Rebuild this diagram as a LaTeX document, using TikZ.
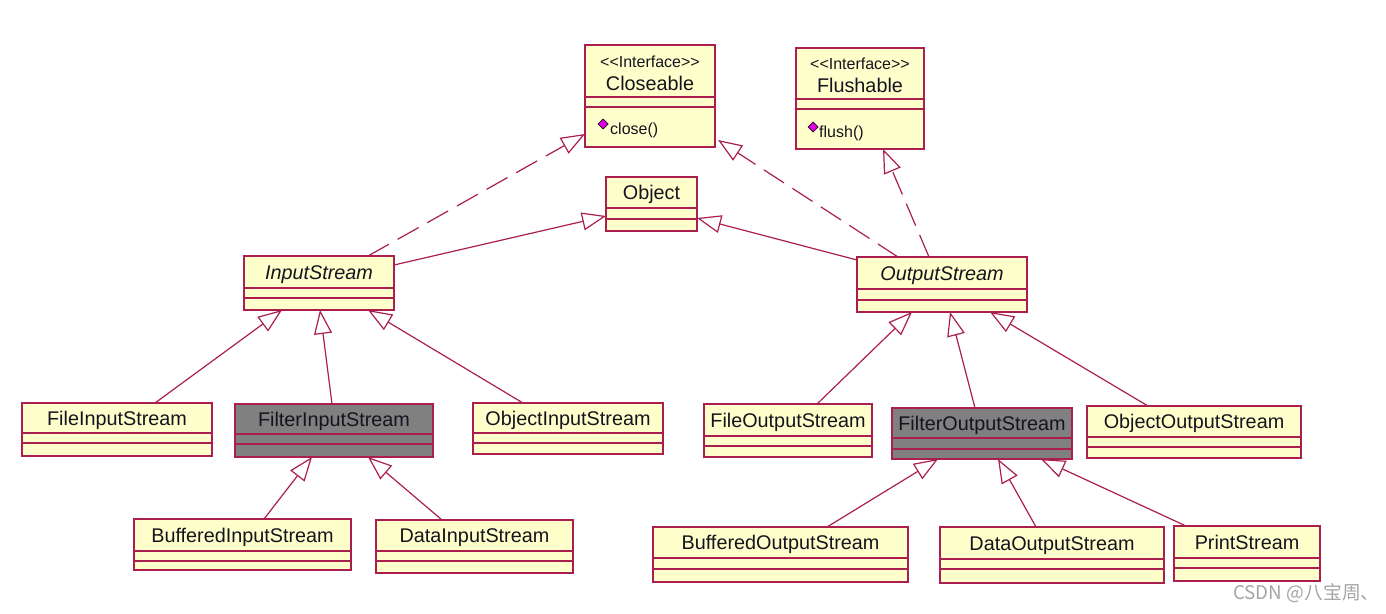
\documentclass[tikz,border=0pt]{standalone}
\usepackage{fontspec}
\setmainfont{Liberation Sans}
\newfontfamily\cjkfont{Noto Sans CJK SC}
\usetikzlibrary{arrows.meta,fit}
\definecolor{umlred}{RGB}{170,30,80}
\definecolor{umlyellow}{RGB}{255,255,204}
\definecolor{umlgray}{RGB}{128,128,128}
\definecolor{umltext}{RGB}{20,20,30}
\definecolor{markcol}{RGB}{225,0,225}
\definecolor{wmgray}{RGB}{165,165,165}
\tikzset{
  clsbox/.style={draw=umlred, line width=1.3pt, inner sep=0pt, outer sep=0pt, rectangle},
  divider/.style={draw=umlred, line width=1.3pt},
  clsname/.style={anchor=base, inner sep=0pt, text=umltext, font=\fontsize{19.8}{22}\selectfont},
  stereo/.style={anchor=base, inner sep=0pt, text=umltext, font=\fontsize{16}{18}\selectfont},
  method/.style={anchor=base west, inner sep=0pt, text=umltext, font=\fontsize{16}{18}\selectfont},
  opmark/.style={fill=markcol, draw=umltext, line width=0.7pt},
  inherit/.style={draw=umlred, line width=1.2pt, line join=miter,
    -{Triangle[length=24pt,width=18pt,fill=white,line width=1.2pt]}},
  realize/.style={inherit, dash pattern=on 24pt off 10pt},
  watermark/.style={anchor=west, inner sep=0pt, text=wmgray, font=\cjkfont\fontsize{18.8}{21}\selectfont},
}
\newcommand\lt{<\kern0pt}
\newcommand\gt{>\kern0pt}
% #1 name, #2 x1, #3 y1, #4 x2, #5 y2, #6 d1, #7 d2, #8 fill, #9 text
\newcommand\umlbox[9]{%
  \path (#2,#3) coordinate (#1-nw) (#4,#5) coordinate (#1-se);
  \node[clsbox, fill=#8, fit=(#1-nw)(#1-se)] (#1) {};
  \draw[divider] (#2,#6) -- (#4,#6) (#2,#7) -- (#4,#7);
  \node[clsname] at ({(#2+#4)/2},{(#3+#6)/2+7}) {#9};
}
\begin{document}
\begin{tikzpicture}[x=1pt,y=-1pt]
\fill[white] (0,0) rectangle (1386,613);
\useasboundingbox (0,0) rectangle (1386,613);

% interfaces
\umlbox{cl}{585}{45}{715}{147}{97}{107}{umlyellow}{}
\node[stereo] at (650,67) {\lt\lt Interface\gt\gt};
\node[clsname] at (650,90) {Closeable};
\fill[opmark] (603,119) -- (608,124) -- (603,129) -- (598,124) -- cycle;
\node[method] at (610,134) {close()};

\umlbox{fl}{796}{48}{924}{149}{99}{109}{umlyellow}{}
\node[stereo] at (860,69) {\lt\lt Interface\gt\gt};
\node[clsname] at (860,92) {Flushable};
\fill[opmark] (813,122) -- (818,127) -- (813,132) -- (808,127) -- cycle;
\node[method] at (819,137) {flush()};

% classes
\umlbox{ob}{606}{177}{697}{231}{208}{219}{umlyellow}{Object}
\umlbox{is}{244}{256}{394}{310}{288}{298}{umlyellow}{\itshape InputStream}
\umlbox{os}{857}{257}{1027}{312}{289}{300}{umlyellow}{\itshape OutputStream}

\umlbox{fis}{22}{403}{212}{456}{433}{443}{umlyellow}{FileInputStream}
\umlbox{filis}{235}{404}{433}{457}{434}{444}{umlgray}{FilterInputStream}
\umlbox{ois}{473}{403}{663}{454}{433}{443}{umlyellow}{ObjectInputStream}
\umlbox{bis}{134}{519}{351}{570}{551}{561}{umlyellow}{BufferedInputStream}
\umlbox{dis}{376}{520}{573}{573}{551}{561}{umlyellow}{DataInputStream}

\umlbox{fos}{704}{404}{872}{457}{436}{446}{umlyellow}{FileOutputStream}
\umlbox{filos}{892}{408}{1072}{459}{438}{449}{umlgray}{FilterOutputStream}
\umlbox{oos}{1087}{406}{1301}{458}{437}{447}{umlyellow}{ObjectOutputStream}
\umlbox{bos}{653}{527}{908}{582}{558}{569}{umlyellow}{BufferedOutputStream}
\umlbox{dos}{940}{527}{1164}{583}{559}{569}{umlyellow}{DataOutputStream}
\umlbox{ps}{1174}{526}{1320}{581}{558}{568}{umlyellow}{PrintStream}

% realizations
\draw[realize] ([xshift=124pt]is.north west) -- ([yshift=13pt]cl.south west);
\draw[realize] ([xshift=41pt]os.north west) -- ([xshift=3pt,yshift=7pt]cl.south east);
\draw[realize] ([xshift=72pt]os.north west) -- ([xshift=87pt]fl.south west);

% generalizations
\draw[inherit] ([yshift=-9pt]is.north east) -- ([yshift=15pt]ob.south west);
\draw[inherit] ([yshift=-3pt]os.north west) -- ([yshift=13pt]ob.south east);

\draw[inherit] ([xshift=133pt]fis.north west) -- ([xshift=38pt]is.south west);
\draw[inherit] ([xshift=97pt]filis.north west) -- ([xshift=76pt]is.south west);
\draw[inherit] ([xshift=50pt]ois.north west) -- ([xshift=124pt]is.south west);
\draw[inherit] ([xshift=130pt]bis.north west) -- ([xshift=77pt]filis.south west);
\draw[inherit] ([xshift=66pt]dis.north west) -- ([xshift=133pt]filis.south west);

\draw[inherit] ([xshift=113pt]fos.north west) -- ([xshift=55pt]os.south west);
\draw[inherit] ([xshift=83pt]filos.north west) -- ([xshift=93pt]os.south west);
\draw[inherit] ([xshift=61pt]oos.north west) -- ([xshift=133pt]os.south west);
\draw[inherit] ([xshift=174pt]bos.north west) -- ([xshift=46pt]filos.south west);
\draw[inherit] ([xshift=96pt]dos.north west) -- ([xshift=106pt]filos.south west);
\draw[inherit] ([xshift=12pt]ps.north west) -- ([xshift=149pt]filos.south west);

\node[watermark] (wm) at (1233,593) {CSDN @八宝周、};
\end{tikzpicture}
\end{document}
